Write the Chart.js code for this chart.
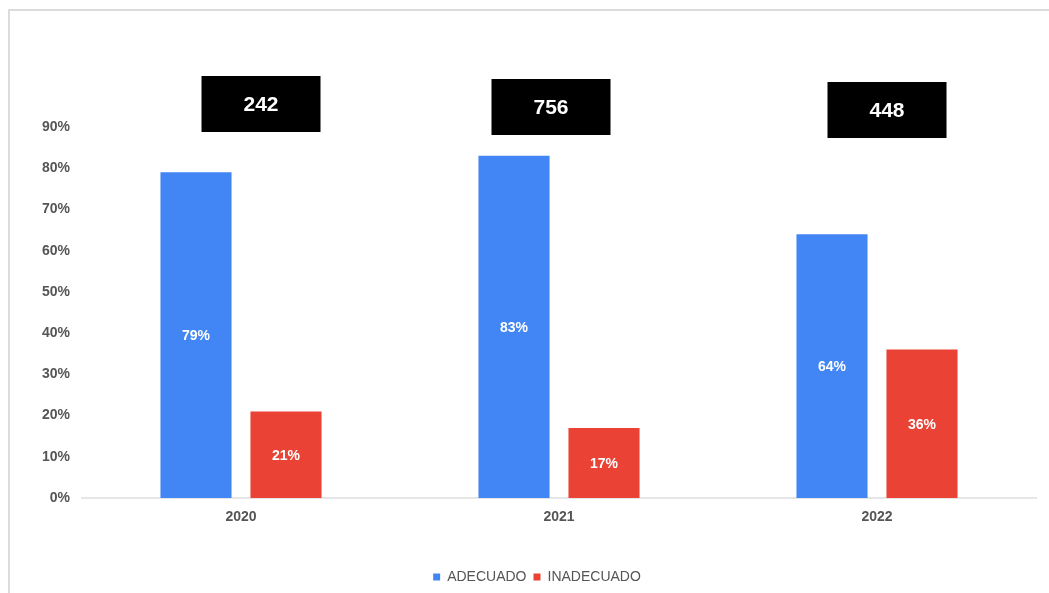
<!DOCTYPE html>
<html>
<head>
<meta charset="utf-8">
<script src="https://cdn.jsdelivr.net/npm/chart.js@4"></script>
<style>
	html, body { margin: 0; padding: 0; background: #fff; }
	#wrap { position: relative; width: 1049px; height: 593px; }
	#frame {
		position: absolute; left: 8px; top: 9px; right: -4px; bottom: -4px;
		border-top: 2px solid #dcdcdc; border-left: 2px solid #dcdcdc;
		pointer-events: none;
	}
</style>
</head>
<body>
<div id="wrap">
	<canvas id="diagram"></canvas>
	<div id="frame"></div>
</div>
<script>
const years = ['2020', '2021', '2022'];
const adecuado = [79, 83, 64];
const inadecuado = [21, 17, 36];
const totals = [242, 756, 448];

// where the black total boxes sit, relative to the category centre
const boxShiftX = [20, -8, 10];
const boxTop = [76, 79, 82];

const FONT = '"Liberation Sans", Arial, sans-serif';

const valueLabels = {
	id: 'valueLabels',
	afterDatasetsDraw(chart) {
		const ctx = chart.ctx;
		ctx.save();
		ctx.fillStyle = '#fff';
		ctx.font = 'bold 14px ' + FONT;
		ctx.textAlign = 'center';
		ctx.textBaseline = 'middle';
		chart.data.datasets.forEach((ds, i) => {
			chart.getDatasetMeta(i).data.forEach((bar, j) => {
				ctx.fillText(ds.data[j] + '%', bar.x, (bar.y + bar.base) / 2 + 1);
			});
		});

		// total boxes over each year
		const x = chart.scales.x;
		ctx.font = 'bold 21px ' + FONT;
		totals.forEach((t, j) => {
			const cx = x.getPixelForValue(j) + boxShiftX[j];
			ctx.fillStyle = '#000';
			ctx.fillRect(cx - 59.5, boxTop[j], 119, 56);
			ctx.fillStyle = '#fff';
			ctx.fillText(String(t), cx, boxTop[j] + 29);
		});
		ctx.restore();
	}
};

const chart = new Chart(document.getElementById('diagram'), {
	type: 'bar',
	data: {
		labels: years,
		datasets: [{
			label: 'ADECUADO',
			data: adecuado,
			backgroundColor: '#4285F4'
		}, {
			label: 'INADECUADO',
			data: inadecuado,
			backgroundColor: '#EA4335'
		}]
	},
	options: {
		responsive: true,
		maintainAspectRatio: false,
		animation: false,
		categoryPercentage: 0.566,
		barPercentage: 0.79,
		layout: { padding: { top: 127, right: 13, left: 38, bottom: -1 } },
		plugins: {
			tooltip: { enabled: false },
			legend: {
				position: 'bottom',
				labels: {
					boxWidth: 7,
					boxHeight: 7,
					padding: 7,
					color: '#555',
					font: { family: FONT, size: 14 }
				}
			}
		},
		scales: {
			x: {
				grid: { display: false },
				border: { color: '#e6e6e6', width: 2 },
				ticks: { color: '#555', padding: 3, font: { family: FONT, size: 14, weight: 'bold' } },
				afterFit: (scale) => { scale.height = 65; }
			},
			y: {
				min: 0,
				max: 90,
				grid: { display: false },
				border: { display: false },
				ticks: {
					stepSize: 10,
					padding: 4,
					color: '#555',
					font: { family: FONT, size: 14, weight: 'bold' },
					callback: (v) => v + '%'
				},
				afterFit: (scale) => { scale.width = 44; }
			}
		}
	},
	plugins: [valueLabels]
});
</script>
</body>
</html>
